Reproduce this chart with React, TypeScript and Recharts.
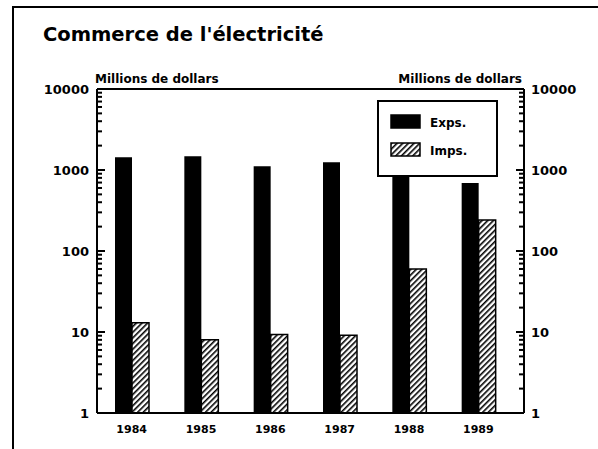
import { BarChart, Bar, XAxis, YAxis, ReferenceLine, Legend } from "recharts";

const years = ["1984", "1985", "1986", "1987", "1988", "1989"];
const exportsValues = [1435, 1475, 1110, 1245, 937, 690];
const importsValues = [13, 8, 9.3, 9.1, 60, 241];
const seriesNames = ["Exps.", "Imps."];
const majorTicks = [1, 10, 100, 1000, 10000];

// log ticks 1,2,...,9,10,20,... up to 10000
const logTicks: number[] = [];
majorTicks.forEach((m, i) => {
  if (i === majorTicks.length - 1) {
    logTicks.push(m);
    return;
  }
  for (let k = 1; k <= 9; k++) logTicks.push(m * k);
});

const data = years.map((y, i) => ({
  year: y,
  exp: exportsValues[i],
  imp: importsValues[i],
}));

const FONT = "'DejaVu Sans', sans-serif";
const fills: Record<string, string> = { exp: "#000", imp: "url(#hatch)" };

// with tickSize 0 / tickMargin 0 the tick x is the axis line x
const LeftTick = (props: any) => {
  const { x, y, payload } = props;
  const major = majorTicks.includes(payload.value);
  return (
    <g>
      <rect x={x} y={y - 1} width={major ? 8 : 5} height={2} fill="#000" />
      {major && (
        <text x={x - 8} y={y} dy={4.5} textAnchor="end" fontSize={13} fontWeight="bold" fontFamily={FONT} fill="#000">
          {payload.value}
        </text>
      )}
    </g>
  );
};

const RightTick = (props: any) => {
  const { x, y, payload } = props;
  const major = majorTicks.includes(payload.value);
  const len = major ? 8 : 5;
  return (
    <g>
      <rect x={x - len} y={y - 1} width={len} height={2} fill="#000" />
      {major && (
        <text x={x + 7} y={y} dy={4.5} textAnchor="start" fontSize={13} fontWeight="bold" fontFamily={FONT} fill="#000">
          {payload.value}
        </text>
      )}
    </g>
  );
};

const LegendBox = (props: any) => {
  const payload = props.payload || [];
  return (
    <svg width={121} height={77}>
      <rect x={1} y={1} width={119} height={75} fill="#fff" stroke="#000" strokeWidth={2} />
      {payload.map((entry: any, i: number) => (
        <g key={i}>
          <rect
            x={14}
            y={15 + i * 28}
            width={29}
            height={13}
            fill={fills[entry.dataKey] || entry.color}
            stroke="#000"
            strokeWidth={1.5}
          />
          <text x={53} y={22 + i * 28} dy={4.5} fontSize={12} fontWeight="bold" fontFamily={FONT} fill="#000">
            {entry.value}
          </text>
        </g>
      ))}
    </svg>
  );
};

export default function App() {
  return (
    <div style={{ position: "absolute", left: 0, top: 0, width: 598, height: 449, background: "#fff", overflow: "hidden" }}>
      <svg width={0} height={0} style={{ position: "absolute" }}>
        <defs>
          <pattern id="hatch" patternUnits="userSpaceOnUse" width={4} height={4} patternTransform="rotate(45)">
            <rect width={4} height={4} fill="#fff" />
            <line x1={0} y1={0} x2={0} y2={4} stroke="#000" strokeWidth={3.2} />
          </pattern>
        </defs>
      </svg>
      <div
        style={{
          position: "absolute",
          left: 12,
          top: 6,
          width: 590,
          height: 450,
          borderLeft: "2px solid #000",
          borderTop: "2px solid #000",
        }}
      />
      <svg width={598} height={90} style={{ position: "absolute", left: 0, top: 0 }}>
        <text x={43} y={41} fontSize={19.5} fontWeight="bold" fontFamily={FONT} fill="#000">
          Commerce de l'électricité
        </text>
        <text x={95} y={83} fontSize={12} fontWeight="bold" fontFamily={FONT} fill="#000">
          Millions de dollars
        </text>
        <text x={522} y={83} textAnchor="end" fontSize={12} fontWeight="bold" fontFamily={FONT} fill="#000">
          Millions de dollars
        </text>
      </svg>
      <div style={{ position: "absolute", left: 0, top: 0 }}>
        <BarChart
          width={598}
          height={449}
          data={data}
          margin={{ top: 89, right: 14, bottom: 6, left: 37 }}
          barGap={0}
        >
          <XAxis
            dataKey="year"
            height={30}
            padding={{ left: 0, right: 11 }}
            tickLine={false}
            tickSize={0}
            tickMargin={12}
            axisLine={{ stroke: "#000", strokeWidth: 2 }}
            tick={{ fontSize: 11, fontWeight: "bold", fontFamily: FONT, fill: "#000" }}
          />
          <YAxis
            yAxisId="left"
            scale="log"
            domain={[1, 10000]}
            ticks={logTicks}
            interval={0}
            width={60}
            tickSize={0}
            tickMargin={0}
            tickLine={false}
            axisLine={{ stroke: "#000", strokeWidth: 2 }}
            tick={<LeftTick />}
            allowDataOverflow
          />
          <YAxis
            yAxisId="right"
            orientation="right"
            scale="log"
            domain={[1, 10000]}
            ticks={logTicks}
            interval={0}
            width={60}
            tickSize={0}
            tickMargin={0}
            tickLine={false}
            axisLine={{ stroke: "#000", strokeWidth: 2 }}
            tick={<RightTick />}
            allowDataOverflow
          />
          <ReferenceLine yAxisId="left" y={10000} stroke="#000" strokeWidth={2} />
          <Legend
            layout="horizontal"
            verticalAlign="middle"
            align="center"
            wrapperStyle={{ left: 377, top: 100, width: 121, height: 77 }}
            content={<LegendBox />}
          />
          <Bar
            yAxisId="left"
            dataKey="exp"
            name={seriesNames[0]}
            fill={fills.exp}
            barSize={17}
            isAnimationActive={false}
          />
          <Bar
            yAxisId="left"
            dataKey="imp"
            name={seriesNames[1]}
            fill={fills.imp}
            stroke="#000"
            strokeWidth={1.5}
            barSize={17}
            isAnimationActive={false}
          />
        </BarChart>
      </div>
    </div>
  );
}
